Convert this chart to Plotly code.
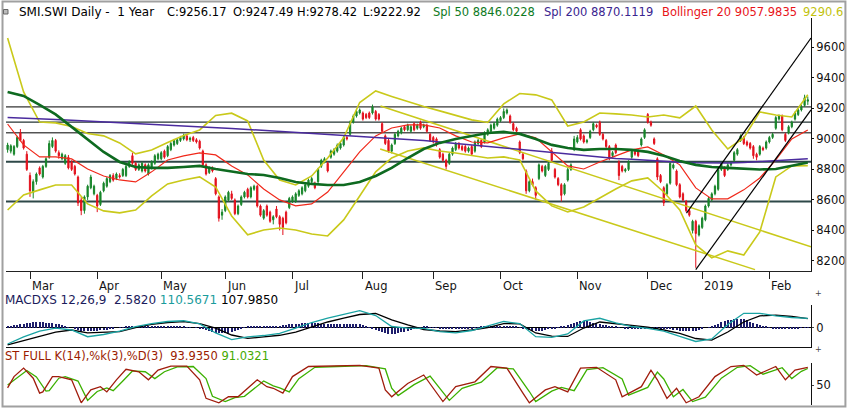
import plotly.graph_objects as go

# x axis is the trading-day index (0 = first bar on the chart)
month_idx = [7, 28, 48, 68, 89, 111, 133, 154, 178, 200, 217, 238]
month_lbl = ["Mar", "Apr", "May", "Jun", "Jul", "Aug", "Sep", "Oct", "Nov", "Dec", "2019", "Feb"]
price_ticks = [8200, 8400, 8600, 8800, 9000, 9200, 9400, 9600]

# daily OHLC
opens = [
    8930, 8920, 8900, 8950, 9040, 8990, 8900, 8760, 8650, 8720,
    8810, 8750, 8820, 8880, 8950, 8990, 8910, 8870, 8840, 8880,
    8850, 8820, 8750, 8600, 8530, 8620, 8680, 8640, 8630, 8570,
    8660, 8690, 8720, 8760, 8740, 8760, 8760, 8760, 8820, 8890,
    8840, 8800, 8790, 8830, 8770, 8810, 8840, 8870, 8870, 8920,
    8890, 8930, 8960, 8970, 8990, 9000, 9020, 8995, 9010, 8995,
    8985, 8920, 8830, 8780, 8810, 8740, 8620, 8500, 8530, 8600,
    8640, 8600, 8510, 8570, 8620, 8670, 8620, 8670, 8690, 8560,
    8480, 8560, 8520, 8470, 8540, 8490, 8480, 8520, 8550, 8590,
    8590, 8630, 8640, 8660, 8690, 8720, 8710, 8720, 8820, 8850,
    8840, 8880, 8900, 8920, 8940, 8960, 9010, 9030, 9110, 9150,
    9170, 9170, 9160, 9170, 9170, 9180, 9160, 9100, 9020, 8990,
    8920, 8970, 9020, 9040, 9080, 9060, 9050, 9100, 9070, 9110,
    9080, 9090, 9030, 9010, 9000, 8930, 8900, 8860, 8840, 8900,
    8930, 8970, 8950, 8950, 8920, 8950, 8920, 8970, 8990, 8980,
    9030, 9050, 9070, 9090, 9120, 9140, 9170, 9150, 9100, 9070,
    8980, 8900, 8790, 8660, 8720, 8680, 8740, 8820, 8760, 8800,
    8920, 8800, 8740, 8700, 8640, 8730, 8800, 8930, 8980, 9060,
    9020, 8980, 9010, 9060, 9090, 9110, 9030, 8990, 8950, 8890,
    8960, 8850, 8820, 8790, 8800, 8880, 8920, 8920, 8960, 9010,
    9160, 9110, 9000, 8870, 8760, 8680, 8640, 8710, 8810, 8790,
    8700, 8640, 8590, 8530, 8400, 8460, 8370, 8420, 8470, 8560,
    8600, 8640, 8670, 8800, 8810, 8800, 8830, 8860, 8900, 8990,
    9010, 8980, 8970, 8950, 8900, 8900, 8940, 8940, 8980, 9010,
    9070, 9130, 9150, 9030, 9040, 9080, 9130, 9160, 9190, 9220,
    9247.49,
]
highs = [
    8975, 8965, 8960, 9020, 9065, 9000, 8920, 8780, 8735, 8780,
    8820, 8830, 8880, 8990, 9010, 9000, 8925, 8910, 8900, 8895,
    8860, 8830, 8760, 8620, 8630, 8700, 8765, 8700, 8640, 8660,
    8720, 8750, 8770, 8775, 8780, 8775, 8810, 8830, 8860, 8910,
    8850, 8840, 8850, 8840, 8840, 8860, 8900, 8910, 8920, 8930,
    8960, 8980, 9000, 9005, 9020, 9035, 9030, 9015, 9020, 9005,
    8995, 8930, 8840, 8820, 8820, 8750, 8630, 8540, 8630, 8660,
    8660, 8610, 8570, 8630, 8660, 8680, 8690, 8700, 8700, 8570,
    8540, 8570, 8530, 8500, 8560, 8500, 8490, 8530, 8620, 8630,
    8650, 8670, 8690, 8710, 8740, 8750, 8720, 8810, 8870, 8880,
    8850, 8930, 8940, 8970, 8980, 9020, 9020, 9120, 9160, 9190,
    9200, 9180, 9170, 9180, 9225, 9190, 9170, 9110, 9030, 9000,
    8970, 9040, 9060, 9080, 9090, 9100, 9090, 9110, 9100, 9120,
    9100, 9100, 9040, 9020, 9010, 8940, 8910, 8870, 8910, 8950,
    8980, 8980, 8960, 8960, 8950, 8960, 8990, 9000, 9000, 9050,
    9070, 9100, 9110, 9140, 9150, 9200, 9200, 9160, 9110, 9080,
    8990, 8910, 8800, 8730, 8740, 8690, 8840, 8830, 8830, 8850,
    8940, 8810, 8750, 8710, 8710, 8810, 8840, 9020, 9025, 9070,
    9030, 9000, 9060, 9110, 9100, 9120, 9040, 9000, 8960, 8920,
    8970, 8860, 8830, 8810, 8860, 8930, 8930, 8930, 9010, 9070,
    9170, 9120, 9010, 8880, 8770, 8690, 8710, 8850, 8840, 8800,
    8710, 8650, 8600, 8540, 8470, 8470, 8440, 8490, 8570, 8620,
    8650, 8700, 8810, 8850, 8820, 8840, 8850, 8920, 8940, 9030,
    9020, 8990, 8980, 8960, 8910, 8960, 8950, 8990, 9020, 9040,
    9150, 9160, 9160, 9040, 9090, 9120, 9180, 9200, 9225, 9290,
    9278.42,
]
lows = [
    8910, 8905, 8890, 8940, 8985, 8930, 8790, 8620, 8610, 8700,
    8760, 8740, 8810, 8870, 8940, 8910, 8870, 8860, 8830, 8800,
    8790, 8760, 8560, 8500, 8510, 8600, 8670, 8630, 8520, 8560,
    8650, 8680, 8710, 8720, 8730, 8740, 8750, 8750, 8810, 8830,
    8790, 8790, 8780, 8780, 8760, 8800, 8830, 8860, 8860, 8870,
    8880, 8920, 8950, 8960, 8980, 8990, 8985, 8980, 8980, 8970,
    8930, 8820, 8760, 8770, 8780, 8630, 8458, 8470, 8520, 8590,
    8600, 8500, 8500, 8560, 8610, 8610, 8610, 8660, 8550, 8490,
    8470, 8490, 8450, 8440, 8480, 8400, 8370, 8440, 8540, 8580,
    8580, 8620, 8630, 8650, 8680, 8710, 8670, 8710, 8810, 8840,
    8780, 8870, 8890, 8910, 8930, 8950, 8990, 9020, 9100, 9140,
    9160, 9120, 9130, 9130, 9160, 9120, 9120, 9040, 8960, 8910,
    8905, 8960, 9010, 9030, 9050, 9050, 9040, 9050, 9060, 9060,
    9070, 9040, 8980, 8970, 8950, 8870, 8850, 8800, 8830, 8890,
    8920, 8930, 8920, 8910, 8910, 8890, 8910, 8960, 8940, 8970,
    9020, 9040, 9060, 9080, 9110, 9130, 9160, 9100, 9050, 9040,
    8900, 8860, 8640, 8650, 8690, 8600, 8730, 8780, 8750, 8790,
    8850, 8740, 8690, 8590, 8630, 8720, 8790, 8920, 8970, 8990,
    8970, 8970, 9000, 9050, 9070, 9020, 8990, 8940, 8860, 8880,
    8900, 8730, 8780, 8780, 8790, 8870, 8890, 8880, 8950, 9000,
    9100, 9080, 8960, 8730, 8710, 8560, 8630, 8700, 8800, 8690,
    8610, 8590, 8520, 8490, 8380, 8155, 8360, 8410, 8460, 8550,
    8590, 8630, 8660, 8790, 8750, 8790, 8820, 8850, 8890, 8980,
    8960, 8950, 8930, 8870, 8860, 8890, 8920, 8930, 8970, 9000,
    9060, 9120, 9050, 8980, 9030, 9070, 9120, 9150, 9180, 9210,
    9222.92,
]
closes = [
    8960, 8955, 8950, 9010, 8990, 8940, 8800, 8660, 8720, 8770,
    8770, 8820, 8870, 8970, 8990, 8920, 8890, 8900, 8890, 8810,
    8800, 8770, 8580, 8530, 8620, 8690, 8750, 8690, 8560, 8650,
    8710, 8740, 8760, 8730, 8770, 8750, 8800, 8820, 8850, 8840,
    8800, 8830, 8840, 8790, 8830, 8850, 8890, 8900, 8910, 8880,
    8950, 8970, 8990, 8995, 9010, 9020, 8995, 9005, 8990, 8980,
    8940, 8830, 8770, 8810, 8790, 8640, 8480, 8520, 8620, 8650,
    8610, 8510, 8560, 8620, 8650, 8620, 8680, 8690, 8560, 8500,
    8530, 8500, 8460, 8490, 8490, 8440, 8420, 8450, 8610, 8620,
    8640, 8660, 8680, 8700, 8730, 8740, 8680, 8800, 8860, 8870,
    8790, 8920, 8930, 8960, 8970, 9010, 9000, 9110, 9150, 9180,
    9190, 9130, 9140, 9140, 9210, 9130, 9130, 9050, 8970, 8920,
    8960, 9030, 9050, 9070, 9060, 9090, 9080, 9060, 9090, 9070,
    9090, 9050, 8990, 8980, 8960, 8880, 8860, 8820, 8900, 8940,
    8970, 8940, 8930, 8920, 8940, 8900, 8980, 8990, 8950, 9040,
    9060, 9090, 9100, 9130, 9140, 9180, 9190, 9110, 9060, 9050,
    8910, 8870, 8660, 8720, 8700, 8630, 8830, 8790, 8820, 8840,
    8860, 8750, 8700, 8630, 8700, 8800, 8830, 9000, 9010, 9000,
    8980, 8990, 9050, 9100, 9080, 9030, 9000, 8950, 8880, 8910,
    8910, 8760, 8790, 8800, 8850, 8920, 8900, 8890, 9000, 9060,
    9110, 9090, 8970, 8750, 8720, 8580, 8700, 8840, 8830, 8700,
    8620, 8600, 8530, 8500, 8460, 8380, 8430, 8480, 8560, 8610,
    8640, 8690, 8800, 8840, 8760, 8830, 8840, 8910, 8930, 9020,
    8970, 8960, 8940, 8890, 8880, 8950, 8930, 8980, 9010, 9030,
    9140, 9150, 9060, 8990, 9080, 9110, 9170, 9190, 9210, 9270,
    9256.17,
]
bar_idx = list(range(len(closes)))

# indicator lines, read every 5th bar
ind_idx = list(range(0, 251, 5))
sma50 = [
    9308, 9282, 9223, 9161, 9079, 8997, 8915, 8849, 8816, 8810,
    8810, 8816, 8823, 8803, 8784, 8770, 8764, 8744, 8718, 8705,
    8698, 8698, 8718, 8757, 8810, 8875, 8934, 8974, 9000, 9020,
    9039, 9046, 9033, 9000, 8961, 8941, 8928, 8934, 8934, 8928,
    8915, 8889, 8856, 8830, 8816, 8810, 8803, 8800, 8803, 8823,
    8846,
]
sma200 = [
    9141, 9138, 9132, 9128, 9123, 9118, 9113, 9108, 9102, 9095,
    9090, 9085, 9080, 9075, 9069, 9062, 9056, 9049, 9043, 9036,
    9030, 9023, 9016, 9010, 9003, 8997, 8990, 8980, 8970, 8961,
    8951, 8941, 8931, 8921, 8911, 8902, 8892, 8882, 8872, 8866,
    8859, 8852, 8847, 8844, 8843, 8843, 8846, 8852, 8859, 8864,
    8870,
]
bb_mid = [
    9098, 8961, 8882, 8882, 8869, 8803, 8757, 8731, 8718, 8784,
    8862, 8889, 8908, 8895, 8823, 8764, 8672, 8600, 8561, 8574,
    8652, 8784, 8915, 9020, 9072, 9092, 9092, 9072, 9020, 8980,
    8974, 9007, 9033, 9007, 8915, 8823, 8803, 8849, 8889, 8928,
    8948, 8895, 8830, 8679, 8607, 8607, 8666, 8744, 8862, 9000,
    9058,
]
bb_up = [
    9662, 9308, 9111, 9105, 9082, 9036, 9020, 8974, 8902, 8928,
    8976, 9023, 9059, 9154, 9169, 9118, 8862, 8731, 8698, 8757,
    8875, 9007, 9239, 9315, 9279, 9243, 9212, 9184, 9157, 9125,
    9108, 9230, 9298, 9289, 9256, 9085, 9111, 9170, 9164, 9157,
    9144, 9157, 9138, 9216, 9059, 8934, 9007, 9177, 9157, 9144,
    9290,
]
bb_lo = [
    8534, 8633, 8666, 8698, 8698, 8574, 8528, 8515, 8534, 8626,
    8705, 8731, 8751, 8685, 8495, 8371, 8403, 8416, 8403, 8377,
    8364, 8469, 8626, 8784, 8875, 8921, 8941, 8921, 8908, 8889,
    8875, 8882, 8862, 8659, 8561, 8521, 8554, 8613, 8672, 8725,
    8744, 8652, 8534, 8305, 8220, 8266, 8239, 8390, 8751, 8823,
    8825,
]

macd = [
    -192, -109, -39, -4, -27, -106, -80, -39, 14, 49,
    73, 82, 44, -62, -139, -109, -92, -68, -4, 61,
    114, 161, 200, 143, 14, -4, -9, -45, -62, -33,
    20, 73, 49, -106, -113, -74, 79, 111, 58, 14,
    -7, -39, -103, -162, -133, 38, 169, 169, 140, 120,
    110.5671,
]
macd_sig = [
    -203, -156, -103, -51, -27, -62, -51, -45, 2, 38,
    61, 71, 49, -4, -86, -125, -109, -89, -51, 8,
    67, 114, 155, 167, 91, 32, -21, -39, -47, -27,
    2, 49, 44, -62, -98, -103, -4, 67, 49, 26,
    8, -27, -68, -127, -145, -51, 67, 138, 149, 132,
    107.985,
]
macd_hist = [
    10, 18, 26, 34, 42, 47, 52, 58, 62, 64,
    64, 62, 58, 54, 50, 47, 38, 28, 18, 8,
    0, -10, -22, -34, -40, -44, -42, -38, -34, -31,
    -29, -22, -14, -6, 0, 6, 8, 10, 11, 12,
    12, 12, 11, 11, 11, 11, 11, 12, 12, 12,
    12, 12, 11, 11, 11, 11, 8, 4, 0, -3,
    -5, -15, -28, -40, -50, -58, -62, -64, -62, -58,
    -53, -40, -25, -10, 4, 16, 17, 17, 16, 16,
    17, 18, 19, 20, 20, 21, 26, 32, 38, 43,
    47, 49, 51, 52, 53, 53, 52, 50, 49, 48,
    47, 47, 47, 47, 47, 47, 48, 48, 47, 46,
    45, 35, 20, 5, -10, -24, -38, -52, -63, -72,
    -77, -75, -65, -55, -45, -36, -26, -15, -5, 5,
    12, 10, 6, 2, -2, -6, -8, -10, -12, -14,
    -15, -14, -12, -10, -8, -6, -1, 5, 10, 14,
    18, 20, 22, 23, 24, 24, 22, 18, 13, 9,
    5, -5, -18, -30, -40, -44, -42, -35, -27, -20,
    -15, -5, 5, 15, 22, 29, 40, 55, 70, 78,
    83, 80, 70, 60, 52, 44, 36, 28, 20, 14,
    9, 5, 0, -5, -9, -12, -13, -14, -15, -15,
    -15, -15, -14, -13, -12, -12, -16, -21, -26, -31,
    -35, -36, -37, -36, -35, -35, -25, -12, 0, 6,
    12, 28, 45, 62, 76, 89, 94, 98, 100, 102,
    102, 90, 72, 52, 40, 31, 22, 12, 3, -4,
    -9, -10, -11, -12, -12, -12, -10, -6, -2, 1,
    2.582,
]

# full stochastic, turning points
k_idx = [0, 2, 5, 8, 10, 11, 14, 16, 20, 23, 26, 29, 31, 34, 37, 41, 44, 47, 51, 56,
         60, 62, 66, 69, 72, 78, 81, 83, 86, 89, 94, 101, 110, 116, 118, 120, 125, 130,
         136, 140, 146, 151, 156, 161, 163, 168, 171, 175, 179, 184, 190, 192, 198, 201,
         203, 206, 209, 212, 216, 221, 226, 230, 234, 240, 243, 246, 250]
k_val = [43, 71, 92, 67, 30, 33, 71, 71, 63, 6, 38, 46, 33, 63, 89, 83, 63, 87, 97, 97,
         63, 17, 6, 21, 21, 63, 46, 42, 30, 71, 96, 97, 99, 92, 38, 21, 54, 75,
         9, 46, 58, 96, 92, 30, 6, 38, 46, 33, 92, 94, 63, 21, 46, 87,
         63, 17, 42, 6, 21, 71, 96, 99, 75, 96, 63, 87, 93.935]
d_idx = [0, 3, 6, 9, 12, 13, 16, 18, 22, 25, 28, 31, 33, 36, 39, 43, 46, 49, 53, 58,
         62, 64, 68, 71, 74, 80, 83, 85, 88, 91, 96, 103, 112, 118, 120, 122, 127, 132,
         138, 142, 148, 153, 158, 163, 165, 170, 173, 177, 181, 186, 192, 194, 200, 203,
         205, 208, 211, 214, 218, 223, 228, 232, 236, 242, 245, 248, 250]
d_val = [50, 68, 86, 70, 35, 36, 67, 71, 60, 12, 34, 43, 36, 60, 85, 83, 66, 83, 95, 96,
         66, 22, 9, 19, 22, 60, 48, 43, 33, 66, 94, 96, 98, 90, 42, 24, 51, 72,
         12, 42, 57, 93, 90, 34, 9, 35, 44, 36, 88, 93, 65, 25, 44, 82,
         65, 21, 39, 9, 20, 67, 94, 98, 77, 93, 66, 84, 91.032]

# drawn support/resistance levels and trend lines
levels = [9210, 9110, 9040, 8850, 8590]
level_col = ["#000000", "#253535", "#000000", "#2e4848", "#2e4848"]
level_w = [1, 1.4, 1, 2, 2]
chan_up_x, chan_up_y = [212.1, 251], [8513, 9662]
chan_lo_x, chan_lo_y = [215, 251], [8143, 9190]
fall_a_x, fall_a_y = [116.5, 251], [9216, 8292]
fall_b_x, fall_b_y = [116.4, 233.5], [8934, 8143]

UP, DN = "#17852a", "#e3101c"
YEL = "#c9c91a"
FONT = "DejaVu Sans"

W, H = 850, 409
ML, MR, MT, MB = 6, 37, 18, 4
PW, PH = W - ML - MR, H - MT - MB


def px(x):
    return (x - ML) / PW


def py(y):
    return (H - MB - y) / PH


fig = go.Figure()

line = lambda x, y, color, width, xa="x", ya="y": go.Scatter(
    x=x, y=y, mode="lines", line=dict(color=color, width=width),
    xaxis=xa, yaxis=ya, hoverinfo="skip", showlegend=False)

fig.add_trace(line(ind_idx, bb_up, YEL, 1.6))
fig.add_trace(line(ind_idx, bb_lo, YEL, 1.6))
fig.add_trace(line(fall_a_x, fall_a_y, YEL, 1.5))
fig.add_trace(line(fall_b_x, fall_b_y, YEL, 1.5))
fig.add_trace(line(ind_idx, bb_mid, "#f0281a", 1.2))
fig.add_trace(line(ind_idx, sma200, "#4a2b9e", 1.5))
fig.add_trace(line(ind_idx, sma50, "#0e6a20", 2.6))
fig.add_trace(line(chan_up_x, chan_up_y, "#000000", 1.2))
fig.add_trace(line(chan_lo_x, chan_lo_y, "#000000", 1.2))

fig.add_trace(go.Candlestick(
    x=bar_idx, open=opens, high=highs, low=lows, close=closes,
    increasing=dict(line=dict(color=UP, width=1), fillcolor=UP),
    decreasing=dict(line=dict(color=DN, width=1), fillcolor=DN),
    whiskerwidth=0, hoverinfo="skip", showlegend=False))

# MACD panel
fig.add_trace(go.Bar(x=bar_idx, y=macd_hist, width=0.35, marker=dict(color="#1d1d6b", line=dict(width=0)),
                     xaxis="x2", yaxis="y2", hoverinfo="skip", showlegend=False))
fig.add_trace(line(ind_idx, macd_sig, "#000000", 1.3, "x2", "y2"))
fig.add_trace(line(ind_idx, macd, "#1aa3a3", 1.3, "x2", "y2"))

# stochastic panel
fig.add_trace(line(d_idx, d_val, "#3cb000", 1.3, "x3", "y3"))
fig.add_trace(line(k_idx, k_val, "#a01c0c", 1.3, "x3", "y3"))

shapes = []
for lv, c, w in zip(levels, level_col, level_w):
    shapes.append(dict(type="line", xref="x", yref="y", x0=-0.5, x1=251, y0=lv, y1=lv,
                       line=dict(color=c, width=w), layer="below"))
# outer frame and header icon
shapes.append(dict(type="rect", xref="paper", yref="paper", x0=px(2.5), x1=px(847.5),
                   y0=py(406.5), y1=py(1.5), line=dict(color="#a0a0a0", width=2)))
shapes.append(dict(type="rect", xref="paper", yref="paper", x0=px(3.5), x1=px(8),
                   y0=py(14), y1=py(9.5), line=dict(color="#666", width=1), fillcolor="#bbb"))

ann = []


def txt(x, y, s, color, size=11.5, xref="paper"):
    ann.append(dict(x=x, y=py(y), xref=xref, yref="paper", text=s, showarrow=False,
                    xanchor="left", yanchor="middle", font=dict(family=FONT, size=size, color=color)))


txt(px(17), 12, "SMI.SWI Daily -&nbsp; 1 Year", "#000", 12)
txt(px(165.7), 12, "C:9256.17", "#000")
txt(px(231.7), 12, "O:9247.49", "#000")
txt(px(295.7), 12, "H:9278.42", "#000")
txt(px(361.7), 12, "L:9222.92", "#000")
txt(px(431.7), 12, "Spl 50 8846.0228", "#0e7a1e")
txt(px(543.3), 12, "Spl 200 8870.1119", "#3a2590")
txt(px(661.7), 12, "Bollinger 20 9057.9835", "#e8141a")
txt(px(803), 12, "9290.6", "#c2c20e")

txt(px(3), 300, "MACDXS 12,26,9&nbsp;&nbsp;2.5820 <span style='color:#1a9c9c'>110.5671</span> "
                "<span style='color:#000000'>107.9850</span>", "#1c1c5c", 12)
txt(px(3), 356, "ST FULL K(14),%k(3),%D(3)&nbsp;&nbsp;93.9350 "
                "<span style='color:#44aa00'>91.0321</span>", "#9b1b00", 11.5)

for i, m in zip(month_idx, month_lbl):
    ann.append(dict(x=i, y=py(286), xref="x", yref="paper", text=m, showarrow=False,
                    xanchor="left", yanchor="middle",
                    font=dict(family=FONT, size=11.5, color="#151515")))

for yy in (293, 349):
    txt(px(815), yy, "+", "#444", 8)

ax_common = dict(showgrid=False, zeroline=False, fixedrange=True)
fig.update_layout(
    width=W, height=H,
    margin=dict(l=ML, r=MR, t=MT, b=MB),
    paper_bgcolor="white", plot_bgcolor="white",
    showlegend=False,
    font=dict(family=FONT, color="#111"),
    xaxis=dict(domain=[0, 1], range=[-0.5, 251], anchor="y", showline=True, linecolor="#222",
               ticks="outside", ticklen=7, tickcolor="#222", tickvals=month_idx,
               showticklabels=False, rangeslider=dict(visible=False), **ax_common),
    yaxis=dict(domain=[py(271), 1], range=[8134, 9793], side="right", anchor="x",
               showline=True, linecolor="#111", ticks="outside", ticklen=2, tickcolor="#111",
               tickvals=price_ticks, tickfont=dict(family=FONT, size=11.5, color="#111"), **ax_common),
    xaxis2=dict(domain=[0, 1], range=[-0.5, 251], anchor="y2", showline=True, linecolor="#111",
                showticklabels=False, ticks="", **ax_common),
    yaxis2=dict(domain=[py(347), py(305)], range=[-227, 267], side="right", anchor="x2",
                showline=True, linecolor="#111", ticks="outside", ticklen=2, tickvals=[0],
                tickfont=dict(family=FONT, size=11.5, color="#111"), showgrid=False,
                zeroline=True, zerolinecolor="#000", zerolinewidth=1, fixedrange=True),
    xaxis3=dict(domain=[0, 1], range=[-0.5, 251], anchor="y3", showline=False,
                showticklabels=False, ticks="", **ax_common),
    yaxis3=dict(domain=[0, py(363)], range=[0.5, 104.7], side="right", anchor="x3",
                showline=True, linecolor="#111", ticks="outside", ticklen=2, tickvals=[50],
                tickfont=dict(family=FONT, size=11.5, color="#111"), **ax_common),
    shapes=shapes, annotations=ann, bargap=0, boxgap=0.45,
)

# the page body has a default 8px margin; drop it so the figure sits at the window corner
fig.write_html("out.html", config={"displayModeBar": False},
               post_script="document.body.style.margin='0';document.body.style.padding='0';")
